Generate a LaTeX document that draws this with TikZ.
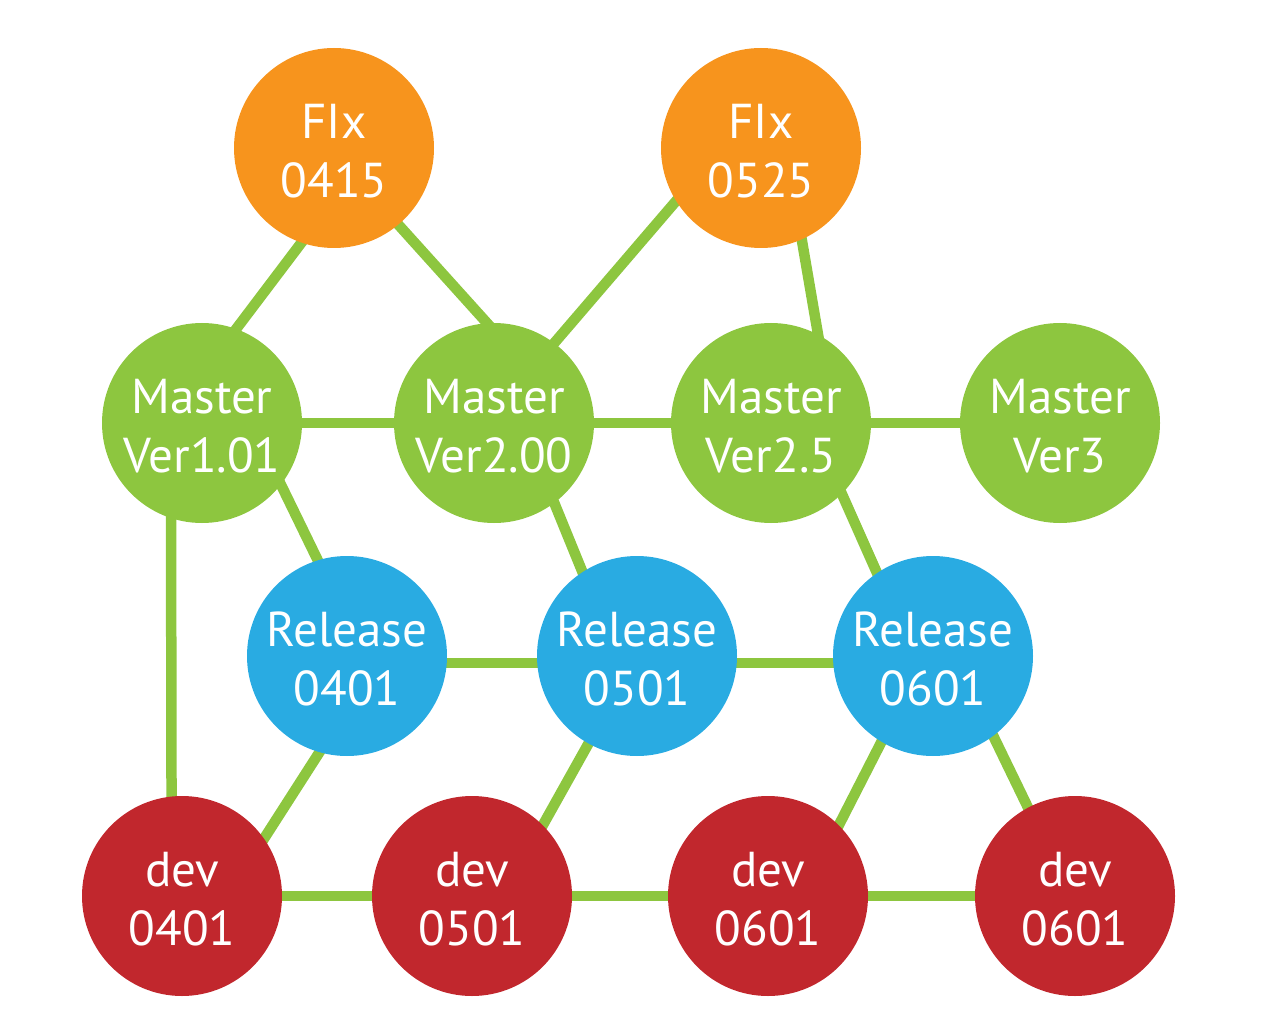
\documentclass[tikz,border=0pt]{standalone}
\usepackage{fontspec}
\setmainfont{PT Sans}
\usetikzlibrary{backgrounds}
\definecolor{cOrange}{HTML}{F7941D}
\definecolor{cGreen}{HTML}{8DC63F}
\definecolor{cBlue}{HTML}{29ABE2}
\definecolor{cRed}{HTML}{C1272D}
\newcommand\topr{\rule{0pt}{41pt}}
\tikzset{
  bubble/.style={circle, minimum size=200pt, inner sep=0pt, text=white, align=center,
    font=\fontsize{49}{59}\selectfont},
  fixnode/.style={bubble, fill=cOrange},
  masternode/.style={bubble, fill=cGreen},
  relnode/.style={bubble, fill=cBlue},
  devnode/.style={bubble, fill=cRed},
  link/.style={draw=cGreen, line width=10.5pt, shorten <=-10pt, shorten >=-10pt}
}
\begin{document}
\begin{tikzpicture}[x=1pt,y=-1pt]
\useasboundingbox (0,0) rectangle (1280,1024);
\node[fixnode] (f1) at (334,148) {\topr FIx\\0415};
\node[fixnode] (f2) at (761,148) {\topr FIx\\0525};
\node[masternode] (m1) at (202,423) {\topr Master\\Ver1.01};
\node[masternode] (m2) at (494,423) {\topr Master\\Ver2.00};
\node[masternode] (m3) at (771,423) {\topr Master\\Ver2.5};
\node[masternode] (m4) at (1060,423) {\topr Master\\Ver3};
\node[relnode] (r1) at (347,656) {\topr Release\\0401};
\node[relnode] (r2) at (637,656) {\topr Release\\0501};
\node[relnode] (r3) at (933,656) {\topr Release\\0601};
\node[devnode] (d1) at (182,896) {\topr dev\\0401};
\node[devnode] (d2) at (472,896) {\topr dev\\0501};
\node[devnode] (d3) at (768,896) {\topr dev\\0601};
\node[devnode] (d4) at (1075,896) {\topr dev\\0601};
\begin{scope}[on background layer]
  \draw[link] (f1.251) -- (m1.70);
  \draw[link] (f1.310) -- (m2.94);
  \draw[link] (f2.212) -- (m2.53);
  \draw[link] (f2.294) -- (m3.62);
  \draw[link] (m1.east) -- (m2.west);
  \draw[link] (m2.east) -- (m3.west);
  \draw[link] (m3.east) -- (m4.west);
  \draw[link] (m1.322) -- (r1.107);
  \draw[link] (m2.307) -- (r2.123);
  \draw[link] (m3.315) -- (r3.124);
  \draw[link] (m1.252) -- (d1.96);
  \draw[link] (r1.-4.6) -- (r2.184.6);
  \draw[link] (r2.-4.6) -- (r3.184.6);
  \draw[link] (r1.254) -- (d1.35);
  \draw[link] (r2.241) -- (d2.45);
  \draw[link] (r3.239) -- (d3.45);
  \draw[link] (r3.307) -- (d4.118);
  \draw[link] (d1.east) -- (d2.west);
  \draw[link] (d2.east) -- (d3.west);
  \draw[link] (d3.east) -- (d4.west);
\end{scope}
\end{tikzpicture}
\end{document}
